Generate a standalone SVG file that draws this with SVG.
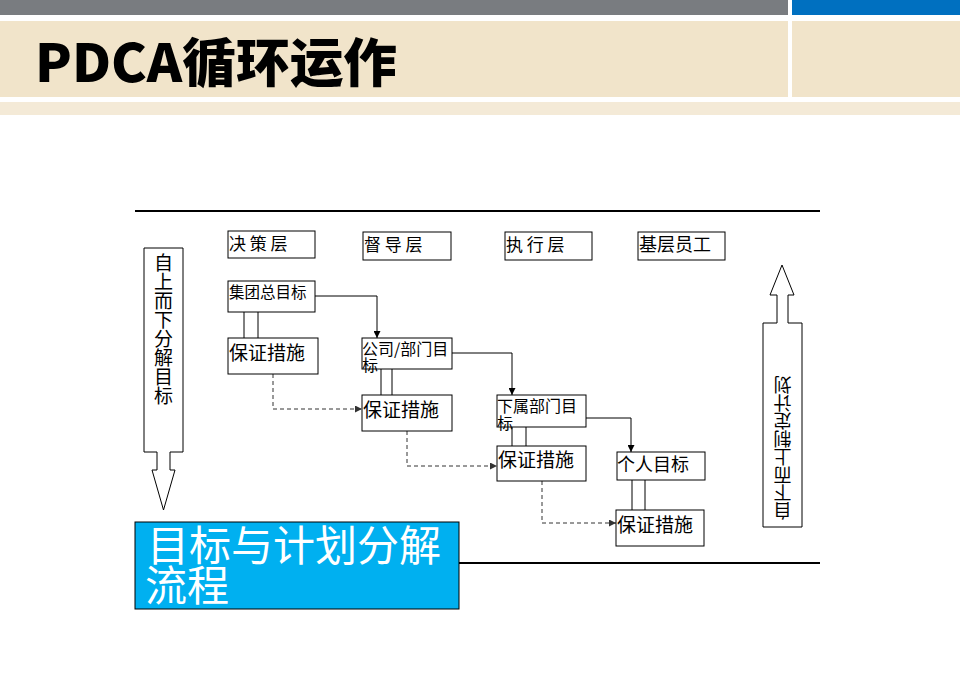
<svg xmlns="http://www.w3.org/2000/svg" width="960" height="678" viewBox="0 0 960 678">
<defs>
<style>
.t{font-family:"Noto Sans CJK SC","Liberation Sans",sans-serif;fill:#000}
.v{writing-mode:vertical-rl;text-orientation:upright}
.box{fill:#fff;stroke:#000;stroke-width:1}
.ln{fill:none;stroke:#000;stroke-width:1}
.dash{fill:none;stroke:#333;stroke-width:1;stroke-dasharray:4 3}
.big{fill:#fff;stroke:#000;stroke-width:1}
</style>
<marker id="ah" markerWidth="7" markerHeight="7" refX="7" refY="3.5" orient="auto" markerUnits="userSpaceOnUse">
<path d="M0,0 L7,3.5 L0,7 Z" fill="#000"/>
</marker>
<marker id="ahd" markerWidth="7" markerHeight="7" refX="7" refY="3.5" orient="auto" markerUnits="userSpaceOnUse">
<path d="M0,0 L7,3.5 L0,7 Z" fill="#333"/>
</marker>
</defs>
<rect width="960" height="678" fill="#fff"/>
<g id="header">
<rect x="0" y="0" width="788" height="15" fill="#797c80"/>
<rect x="792" y="0" width="168" height="15" fill="#0070c0"/>
<rect x="0" y="21" width="788" height="76" fill="#f1e4ca"/>
<rect x="792" y="21" width="168" height="76" fill="#f1e4ca"/>
<rect x="0" y="102" width="960" height="13" fill="#f4ead7"/>
<text x="35" y="82" class="t" font-size="52" font-weight="900" textLength="362" lengthAdjust="spacingAndGlyphs">PDCA循环运作</text>
</g>
<g id="rules">
<line x1="135" y1="211" x2="820" y2="211" stroke="#000" stroke-width="2"/>
<line x1="459" y1="563" x2="820" y2="563" stroke="#000" stroke-width="2"/>
</g>
<g id="left-arrow">
<path class="big" d="M144,248 H183 V452 H170 V470 H175 L163.5,510 L152,470 H157 V452 H144 Z"/>
<text class="t v" x="163.5" y="253" font-size="19">自上而下分解目标</text>
</g>
<g id="right-arrow">
<path class="big" d="M763,527 H802 V323 H788 V295 H794 L782,265 L770,295 H777 V323 H763 Z"/>
<text class="t v" x="782.5" y="374" font-size="18" transform="rotate(180 782.5 447)">自下而上制定计划</text>
</g>
<g id="layer-juece"><rect class="box" x="228" y="231" width="87" height="27"/><text class="t" x="229" y="250" font-size="17">决 策 层</text></g>
<g id="layer-dudao"><rect class="box" x="363" y="232" width="88" height="28"/><text class="t" x="364" y="251" font-size="17">督 导 层</text></g>
<g id="layer-zhixing"><rect class="box" x="505" y="232" width="87" height="28"/><text class="t" x="506" y="251" font-size="17">执 行 层</text></g>
<g id="layer-jiceng"><rect class="box" x="638" y="232" width="87" height="28"/><text class="t" x="639" y="251" font-size="18">基层员工</text></g>

<g id="connectors">
<path class="ln" d="M244,312 V338 M258,312 V338"/>
<path class="ln" d="M381,369 V395 M392,369 V395"/>
<path class="ln" d="M512,427 V446 M526,427 V446"/>
<path class="ln" d="M632,480 V510 M645,480 V510"/>
<path class="ln" d="M315,296 H377 V338" marker-end="url(#ah)"/>
<path class="ln" d="M452,353 H512 V395" marker-end="url(#ah)"/>
<path class="ln" d="M586,418 H631 V452" marker-end="url(#ah)"/>
<path class="dash" d="M273,374 V409 H362" marker-end="url(#ahd)"/>
<path class="dash" d="M407,431 V466 H497" marker-end="url(#ahd)"/>
<path class="dash" d="M542,481 V523 H616" marker-end="url(#ahd)"/>
</g>

<g id="jituan"><rect class="box" x="228" y="281" width="87" height="31"/><text class="t" x="229" y="298" font-size="15.5">集团总目标</text></g>
<g id="baozheng1"><rect class="box" x="228" y="338" width="90" height="36"/><text class="t" x="229" y="360" font-size="19">保证措施</text></g>
<g id="gongsi"><rect class="box" x="362" y="338" width="90" height="31"/><text class="t" x="362" y="355" font-size="16">公司/部门目</text><text class="t" x="362" y="371" font-size="16">标</text></g>
<g id="baozheng2"><rect class="box" x="362" y="395" width="90" height="36"/><text class="t" x="363" y="417" font-size="19">保证措施</text></g>
<g id="xiashu"><rect class="box" x="497" y="395" width="89" height="32"/><text class="t" x="497" y="412" font-size="16">下属部门目</text><text class="t" x="497" y="429" font-size="16">标</text></g>
<g id="baozheng3"><rect class="box" x="497" y="446" width="89" height="35"/><text class="t" x="498" y="467" font-size="19">保证措施</text></g>
<g id="geren"><rect class="box" x="617" y="452" width="88" height="28"/><text class="t" x="617" y="471" font-size="18">个人目标</text></g>
<g id="baozheng4"><rect class="box" x="616" y="510" width="88" height="36"/><text class="t" x="617" y="532" font-size="19">保证措施</text></g>

<g id="title-box">
<rect x="135" y="522" width="324" height="87" fill="#00b0f0" stroke="#000" stroke-width="1"/>
<text class="t" x="147" y="561" font-size="42" style="fill:#fff">目标与计划分解</text>
<text class="t" x="145" y="601" font-size="42" style="fill:#fff">流程</text>
</g>
</svg>
